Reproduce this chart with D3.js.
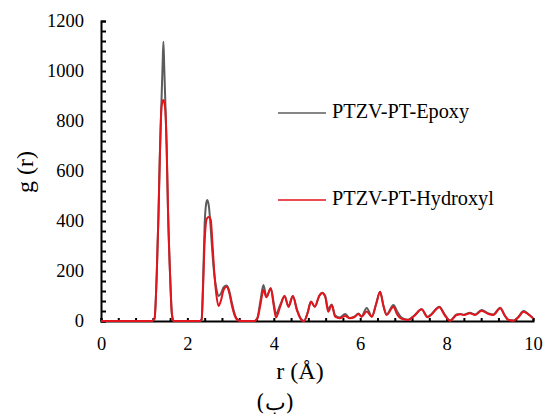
<!DOCTYPE html>
<html>
<head>
<meta charset="utf-8">
<script src="https://cdn.jsdelivr.net/npm/d3@7"></script>
<style>
  html, body { margin: 0; padding: 0; background: #fff; }
  svg { display: block; }
</style>
</head>
<body>
<svg id="chart" width="546" height="417"></svg>
<script>
// ---- data ----
const rValues = [0, 1.18, 1.24, 1.29, 1.33, 1.36, 1.40, 1.425, 1.445, 1.465, 1.49, 1.52, 1.55, 1.60, 1.64, 1.68,
  2.29, 2.33, 2.36, 2.40, 2.44, 2.46, 2.50, 2.54, 2.58, 2.62, 2.67, 2.72, 2.77, 2.84, 2.91, 2.97, 3.03, 3.10, 3.18, 3.26,
  3.55, 3.62, 3.69, 3.76, 3.83, 3.93, 4.00, 4.05, 4.15, 4.25, 4.34, 4.44, 4.54, 4.64, 4.70, 4.78, 4.86, 4.95, 5.05, 5.12,
  5.19, 5.26, 5.34, 5.42, 5.53, 5.65, 5.76, 5.87, 5.96, 6.03, 6.15, 6.27, 6.37, 6.46, 6.54, 6.61, 6.77, 6.85, 6.93, 7.00,
  7.11, 7.25, 7.42, 7.56, 7.64, 7.83, 7.96, 8.08, 8.23, 8.32, 8.40, 8.54, 8.66, 8.81, 8.97, 9.08, 9.24, 9.35, 9.43, 9.55,
  9.66, 9.78, 9.90, 10.0];
const epoxyValues = [0, 0, 10, 185, 420, 650, 880, 1020, 1117, 1010, 870, 700, 450, 180, 30, 0,
  0, 8, 140, 390, 475, 484, 455, 370, 270, 190, 130, 100, 108, 135, 142, 120, 72, 25, 3, 0,
  0, 12, 80, 144, 97, 131, 70, 28, 65, 100, 57, 100, 45, 6, 0, 32, 78, 57, 100, 113,
  100, 48, 66, 22, 14, 28, 12, 18, 30, 18, 52, 18, 70, 117, 60, 26, 64, 40, 18, 9,
  5, 22, 47, 17, 26, 57, 25, 2, 26, 28, 25, 33, 26, 44, 30, 26, 53, 22, 5, 2,
  16, 40, 27, 12];
const hydroxylValues = [0, 0, 10, 185, 420, 640, 855, 878, 884, 875, 840, 690, 450, 180, 30, 0,
  0, 6, 120, 320, 405, 412, 416, 405, 310, 200, 105, 60, 78, 125, 137, 112, 62, 20, 2, 0,
  0, 10, 65, 124, 95, 131, 60, 14, 58, 100, 57, 100, 40, 4, 0, 30, 77, 57, 100, 112,
  97, 37, 64, 17, 11, 20, 11, 16, 28, 17, 38, 17, 68, 117, 58, 24, 57, 28, 11, 7,
  4, 20, 47, 15, 24, 55, 22, 1, 24, 27, 24, 31, 24, 41, 28, 24, 51, 20, 4, 1,
  15, 37, 25, 11];
const seriesNames = ["PTZV-PT-Epoxy", "PTZV-PT-Hydroxyl"];
const seriesColors = ["#5c5c5c", "#e3141c"];
const xTickLabels = [0, 2, 4, 6, 8, 10];
const yTickLabels = [0, 200, 400, 600, 800, 1000, 1200];
const xTitle = "r (Å)";
const yTitle = "g (r)";
const caption = "(ب)";

// ---- drawing ----
const SERIF = "Liberation Serif";
const svg = d3.select("#chart");
const x = d3.scaleLinear().domain([0, 10]).range([101, 533]);
const y = d3.scaleLinear().domain([0, 1200]).range([321, 21]);

const xMinor = d3.range(0, 25.5, 1).map(i => +(i * 0.4).toFixed(2));
const yMinor = d3.range(0, 1201, 40);

const xAxis = d3.axisBottom(x)
  .tickValues(xMinor)
  .tickSize(-3)
  .tickPadding(16)
  .tickFormat(d => xTickLabels.some(v => Math.abs(v - d) < 1e-6) ? d3.format("d")(d) : "");
const yAxis = d3.axisLeft(y)
  .tickValues(yMinor)
  .tickSize(-5)
  .tickPadding(17)
  .tickFormat(d => yTickLabels.includes(d) ? d : "");

const gx = svg.append("g").attr("transform", `translate(0,${y(0)})`).call(xAxis);
const gy = svg.append("g").attr("transform", `translate(${x(0)},0)`).call(yAxis);
[gx, gy].forEach(g => {
  g.select(".domain").attr("stroke", "#000").attr("stroke-width", 2);
  g.selectAll(".tick line").attr("stroke", "#000").attr("stroke-width", 2);
  g.selectAll(".tick text")
    .style("font-family", SERIF)
    .style("font-size", "18.5px")
    .attr("fill", "#000");
});

const line = vals => d3.line()
  .x((d, i) => x(rValues[i]))
  .y(d => y(d))
  .curve(d3.curveMonotoneX)(vals);

[epoxyValues, hydroxylValues].forEach((vals, k) => {
  svg.append("path")
    .attr("d", line(vals))
    .attr("fill", "none")
    .attr("stroke", seriesColors[k])
    .attr("stroke-width", 2)
    .attr("stroke-linejoin", "round");
});

// legend
const legendY = [113, 200];
seriesNames.forEach((name, k) => {
  svg.append("line")
    .attr("x1", 278).attr("x2", 326)
    .attr("y1", legendY[k]).attr("y2", legendY[k])
    .attr("stroke", seriesColors[k]).attr("stroke-width", 1.5);
  svg.append("text")
    .attr("x", 332).attr("y", legendY[k] + 5)
    .style("font-family", SERIF)
    .style("font-size", "20.3px")
    .text(name);
});

// axis titles
svg.append("text")
  .attr("x", 300).attr("y", 379)
  .attr("text-anchor", "middle")
  .style("font-family", SERIF)
  .style("font-size", "24px")
  .text(xTitle);
svg.append("text")
  .attr("transform", "translate(33,172) rotate(-90)")
  .attr("text-anchor", "middle")
  .style("font-family", SERIF)
  .style("font-size", "24px")
  .text(yTitle);

// caption
svg.append("text")
  .attr("x", 275).attr("y", 410)
  .attr("text-anchor", "middle")
  .style("font-family", "DejaVu Serif")
  .style("font-size", "22px")
  .text(caption);
</script>
</body>
</html>
